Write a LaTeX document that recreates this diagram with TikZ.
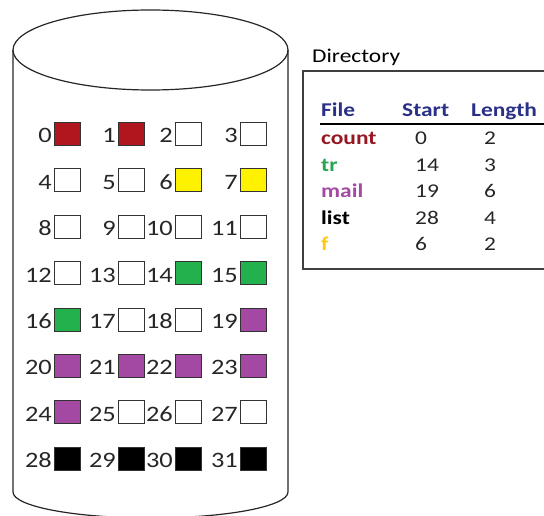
\documentclass[tikz,border=0pt]{standalone}
\usepackage{fontspec}
\setmainfont{Carlito}[FakeStretch=1.2]
\usepackage{xcolor}
\usetikzlibrary{positioning}

\definecolor{fred}{RGB}{176,22,30}
\definecolor{fyellow}{RGB}{255,242,0}
\definecolor{fgreen}{RGB}{34,177,76}
\definecolor{fpurple}{RGB}{163,73,164}
\definecolor{fgold}{RGB}{255,201,14}
\definecolor{tgreen}{RGB}{40,165,85}
\definecolor{tred}{RGB}{150,22,34}
\definecolor{navy}{RGB}{42,48,135}

\begin{document}
\begin{tikzpicture}[
        x=1pt, y=-1pt,
        cyl/.style={
            draw=black!85,
            line width=1.2pt
        },
        block/.style={
            draw=black!80,
            line width=0.8pt,
            minimum width=26pt,
            minimum height=23pt,
            inner sep=0pt,
            anchor=north west
        },
        num/.style={
            font=\fontsize{22}{22}\selectfont,
            text=black!85,
            inner sep=0pt,
            anchor=base east
        },
        dirframe/.style={
            draw=black!75,
            line width=2pt
        },
        title/.style={
            font=\fontsize{19.5}{19.5}\selectfont,
            inner sep=0pt,
            anchor=base west
        },
        head/.style={
            font=\fontsize{19.5}{19.5}\selectfont\bfseries,
            text=navy,
            inner sep=0pt,
            anchor=base west
        },
        fname/.style={
            font=\fontsize{19.5}{19.5}\selectfont\bfseries,
            inner sep=0pt,
            anchor=base west
        },
        cell/.style={
            font=\fontsize{19.5}{19.5}\selectfont,
            text=black!85,
            inner sep=0pt,
            anchor=base west
        }
    ]

    \clip (0,0) rectangle (544,516);

    % disk
    \draw[cyl] (150.5,50) ellipse [x radius=137.5, y radius=40];
    \draw[cyl] (13,50) -- (13,492)
        arc[start angle=180, end angle=0, x radius=137.5, y radius=26]
        -- (288,50);

    % blocks
    \def\blockcolors{{"fred","fred","white","white",
        "white","white","fyellow","fyellow",
        "white","white","white","white",
        "white","white","fgreen","fgreen",
        "fgreen","white","white","fpurple",
        "fpurple","fpurple","fpurple","fpurple",
        "fpurple","white","white","white",
        "black","black","black","black"}}
    \foreach \r in {0,...,7}
        \foreach \c/\cx in {0/54,1/118,2/175,3/240} {
            \pgfmathtruncatemacro{\n}{4*\r+\c}
            \pgfmathsetmacro{\col}{\blockcolors[\n]}
            \node[block, fill=\col] (b\n) at (\cx,122+46.4*\r) {};
            \node[num] (l\n) at ([xshift=-2pt, yshift=3pt]b\n.south west) {\n};
        }

    % directory
    \node[title] (dirtitle) at (312,63) {Directory};
    \draw[dirframe] (303,71) rectangle (556,269);

    \node[head] (hfile) at (321,117) {File};
    \node[head] (hstart) at (402,117) {Start};
    \node[head] (hlen) at (471,117) {Length};
    \draw[line width=1.5pt] (320,124) -- (550,124);

    \foreach \name/\st/\len/\col [count=\k from 0] in
        {count/0/2/tred, tr/14/3/tgreen, mail/19/6/fpurple, list/28/4/black, f/6/2/fgold} {
        \node[fname, text=\col] (f\k) at (321,145+26.5*\k) {\name};
        \node[cell] (s\k) at (415,145+26.5*\k) {\st};
        \node[cell] (n\k) at (484,145+26.5*\k) {\len};
    }

\end{tikzpicture}
\end{document}
